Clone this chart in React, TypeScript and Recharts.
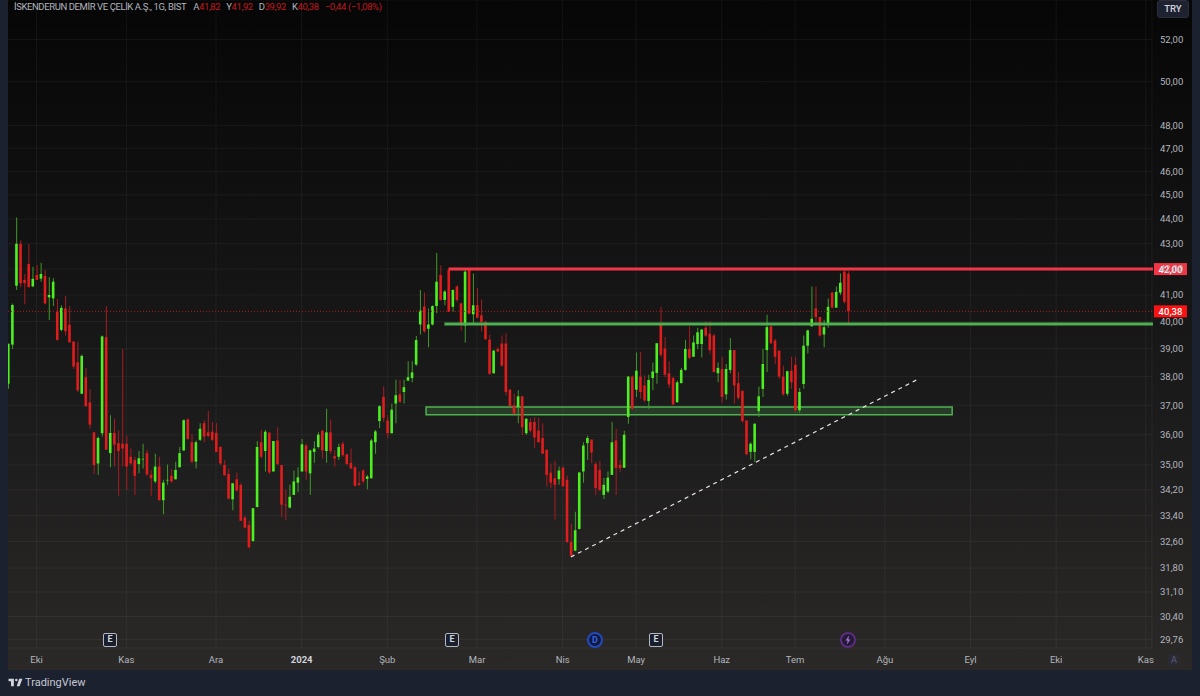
import React from 'react';
import {
  ComposedChart,
  Bar,
  Cell,
  XAxis,
  YAxis,
  CartesianGrid,
  ReferenceLine,
  ReferenceArea,
  ReferenceDot,
} from 'recharts';

const opens = [
  37.75, 39.15, 41.35, 43.0, 41.58, 42.2, 41.33, 41.77, 41.63, 41.73,
  40.91, 40.87, 40.36, 39.69, 40.49, 39.88, 39.26, 38.51, 37.4, 37.98,
  37.1, 36.08, 35.05, 36.05, 39.42, 35.39, 36.06, 35.72, 35.7, 35.7,
  35.27, 35.16, 35.03, 35.18, 35.39, 34.68, 34.47, 34.95, 33.87, 34.5,
  34.65, 34.54, 34.93, 35.48, 36.52, 35.75, 35.11, 35.83, 36.39, 36.08,
  36.1, 36.06, 35.59, 35.0, 34.71, 33.9, 34.54, 34.36, 33.33, 33.1,
  32.61, 33.66, 35.75, 35.46, 36.07, 34.79, 35.81, 35.0, 33.73, 33.64,
  34.04, 34.43, 34.79, 35.64, 34.73, 35.43, 35.59, 36.13, 35.46, 36.08,
  35.29, 35.27, 35.7, 35.35, 35.07, 34.93, 34.41, 34.82, 34.55, 34.57,
  35.75, 36.46, 37.29, 36.48, 36.05, 37.06, 37.38, 37.46, 37.86, 37.95,
  38.43, 39.89, 40.56, 39.73, 39.89, 40.58, 41.77, 40.81, 41.96, 40.55,
  41.32, 40.68, 39.85, 41.96, 40.27, 40.61, 40.23, 39.98, 39.33, 38.12,
  38.99, 39.19, 39.19, 37.54, 37.0, 36.94, 37.31, 36.05, 36.43, 36.43,
  36.14, 35.89, 35.5, 34.75, 34.57, 34.54, 34.91, 34.52, 32.58, 32.32,
  32.98, 34.79, 35.72, 35.84, 35.03, 34.84, 34.04, 34.15, 34.68, 35.81,
  35.0, 34.91, 36.6, 38.0, 37.54, 38.0, 37.69, 37.15, 37.95, 38.13,
  39.91, 39.01, 38.12, 37.95, 37.11, 37.77, 38.24, 38.99, 38.71, 39.17,
  39.17, 39.77, 39.55, 39.48, 38.12, 38.27, 37.38, 38.24, 38.95, 37.77,
  37.5, 36.48, 35.43, 35.43, 36.8, 37.57, 38.95, 39.82, 39.3, 38.93,
  38.0, 37.4, 38.21, 38.42, 36.83, 37.74, 39.11, 39.82, 40.49, 40.17,
  39.52, 39.91, 41.09, 40.52, 41.09, 41.9, 41.82,
];

const closes = [
  39.18, 40.62, 43.0, 41.45, 41.45, 41.3, 41.62, 41.58, 41.81, 40.68,
  41.0, 41.51, 39.32, 40.51, 39.64, 39.23, 38.36, 37.52, 38.74, 36.97,
  36.34, 35.0, 35.89, 39.45, 35.5, 36.06, 35.67, 35.46, 35.54, 34.95,
  35.05, 34.65, 35.22, 35.2, 34.69, 34.57, 34.95, 33.87, 34.43, 34.52,
  34.47, 34.84, 35.39, 36.49, 35.86, 35.11, 35.75, 36.2, 35.94, 35.96,
  35.83, 35.43, 35.05, 34.67, 33.92, 34.41, 34.18, 33.23, 33.02, 32.42,
  33.62, 35.59, 35.27, 36.1, 34.76, 35.79, 35.03, 33.73, 33.71, 33.98,
  34.47, 34.6, 35.68, 34.79, 35.48, 35.54, 36.0, 35.48, 36.08, 35.46,
  35.21, 35.59, 35.32, 35.03, 34.89, 34.33, 34.36, 34.47, 34.63, 35.81,
  36.11, 36.97, 36.57, 36.05, 36.85, 37.35, 37.12, 37.63, 37.98, 38.15,
  39.32, 40.41, 39.64, 39.89, 40.58, 41.51, 40.81, 41.13, 40.36, 41.19,
  40.81, 39.91, 41.9, 40.29, 40.61, 40.14, 39.98, 39.35, 38.1, 38.93,
  38.9, 38.39, 37.46, 36.97, 36.71, 37.31, 36.25, 36.54, 36.14, 35.91,
  35.75, 35.37, 34.68, 34.43, 34.36, 34.82, 34.31, 32.58, 32.17, 32.94,
  34.76, 35.64, 35.89, 35.41, 34.26, 34.2, 34.36, 34.59, 35.75, 34.9,
  34.9, 36.0, 38.0, 36.88, 38.21, 37.46, 37.17, 37.88, 38.18, 39.2,
  38.78, 38.07, 37.72, 37.03, 37.8, 38.24, 38.99, 38.67, 39.23, 39.6,
  39.7, 39.48, 38.95, 38.16, 38.31, 37.29, 38.27, 38.95, 37.69, 37.26,
  36.46, 35.35, 35.7, 36.37, 37.31, 38.45, 39.79, 39.2, 38.71, 38.0,
  37.38, 38.19, 37.8, 36.83, 37.46, 39.11, 39.67, 40.1, 40.17, 39.48,
  39.79, 40.55, 40.52, 41.12, 41.47, 40.74, 40.38,
];

const highs = [
  39.18, 40.68, 44.07, 43.13, 41.81, 42.99, 42.09, 42.16, 42.25, 41.96,
  41.68, 41.64, 40.85, 40.6, 40.96, 40.58, 39.27, 39.26, 38.79, 38.31,
  37.56, 36.08, 35.94, 39.48, 40.58, 36.66, 36.54, 36.14, 38.99, 35.97,
  35.54, 35.27, 35.46, 35.7, 35.5, 34.84, 35.37, 35.27, 34.52, 35.02,
  34.86, 35.11, 35.59, 36.52, 36.56, 36.02, 35.81, 36.39, 36.49, 36.8,
  36.43, 36.39, 35.62, 35.16, 34.89, 34.41, 34.76, 34.41, 33.38, 33.23,
  33.62, 35.79, 36.16, 36.16, 36.08, 35.79, 36.25, 35.0, 34.2, 34.36,
  34.82, 34.93, 35.86, 35.7, 35.5, 35.78, 36.08, 36.16, 36.88, 36.51,
  35.48, 35.7, 35.77, 35.37, 35.54, 34.95, 34.79, 34.86, 34.68, 35.86,
  36.16, 37.0, 37.66, 36.66, 37.06, 37.89, 37.89, 37.89, 38.55, 38.55,
  39.46, 41.19, 41.09, 40.49, 40.61, 42.63, 42.15, 41.19, 41.99, 41.22,
  41.38, 40.7, 41.96, 41.99, 41.83, 41.26, 40.83, 40.04, 39.51, 38.95,
  39.05, 39.48, 39.57, 37.57, 37.4, 37.52, 37.31, 36.56, 36.56, 36.6,
  36.57, 36.39, 35.5, 35.05, 35.14, 34.95, 34.95, 34.65, 33.14, 33.51,
  34.76, 35.75, 35.97, 35.84, 35.1, 35.14, 34.58, 34.79, 36.43, 36.2,
  35.16, 36.13, 38.02, 38.04, 38.86, 38.89, 38.04, 38.07, 38.5, 39.2,
  40.55, 39.43, 38.55, 38.0, 37.86, 38.31, 39.32, 39.82, 39.48, 39.77,
  39.73, 40.01, 40.01, 39.55, 38.5, 38.71, 38.45, 39.39, 38.95, 38.16,
  37.52, 36.48, 35.75, 36.39, 37.65, 38.99, 40.25, 39.85, 39.36, 38.93,
  38.39, 38.21, 38.71, 38.71, 37.6, 39.48, 39.7, 41.32, 41.32, 40.17,
  40.07, 40.87, 41.12, 41.32, 41.83, 41.96, 41.92,
];

const lows = [
  37.57, 38.99, 41.19, 41.3, 40.65, 41.3, 41.3, 41.58, 41.51, 40.65,
  40.06, 40.58, 39.3, 39.64, 39.48, 39.23, 38.27, 37.46, 37.38, 36.94,
  36.2, 34.71, 34.68, 35.94, 35.5, 34.93, 34.95, 34.01, 34.95, 34.2,
  35.0, 34.04, 34.73, 34.89, 34.65, 34.01, 34.41, 33.87, 33.43, 34.36,
  34.43, 34.52, 34.91, 35.46, 35.83, 35.05, 34.89, 35.79, 35.75, 35.92,
  35.79, 35.43, 35.0, 34.65, 33.9, 33.56, 34.15, 33.23, 33.0, 32.38,
  32.59, 33.64, 35.22, 34.79, 34.71, 34.79, 35.0, 33.35, 33.25, 33.62,
  34.04, 34.12, 34.79, 34.52, 34.04, 35.07, 35.54, 35.21, 35.07, 35.37,
  34.95, 35.16, 35.27, 35.0, 34.86, 34.31, 34.33, 34.41, 34.22, 34.57,
  35.37, 36.23, 36.43, 35.89, 36.05, 36.39, 37.08, 37.06, 37.84, 37.8,
  38.39, 39.52, 39.58, 39.05, 39.85, 40.32, 40.78, 40.61, 40.36, 40.36,
  40.74, 39.67, 39.23, 40.29, 39.91, 40.14, 39.64, 39.32, 38.07, 38.1,
  38.87, 38.36, 37.34, 36.97, 36.69, 36.39, 35.99, 36.0, 36.08, 35.57,
  35.75, 35.37, 34.31, 34.25, 33.27, 34.36, 34.31, 32.55, 32.14, 32.3,
  32.96, 34.43, 35.16, 35.06, 34.04, 34.15, 33.91, 34.1, 34.68, 34.04,
  34.78, 34.91, 36.37, 36.85, 37.29, 37.23, 37.11, 36.88, 37.52, 37.75,
  38.71, 37.98, 37.6, 37.0, 37.08, 37.77, 38.21, 38.63, 38.71, 38.99,
  38.68, 39.43, 38.8, 38.16, 37.8, 37.09, 37.2, 38.12, 37.06, 37.2,
  36.4, 35.32, 35.19, 35.1, 36.6, 37.29, 38.16, 39.17, 38.45, 37.92,
  37.33, 37.33, 37.57, 36.77, 36.74, 37.57, 38.83, 39.82, 39.89, 39.45,
  39.05, 39.77, 40.5, 40.52, 41.0, 40.68, 39.92,
];

const priceTicks = [
  52, 50, 48, 47, 46, 45, 44, 43, 42, 41, 40, 39, 38, 37, 36, 35, 34.2, 33.4, 32.6, 31.8, 31.1, 30.4, 29.76,
];
const monthSlots = [7, 29, 51, 72, 93, 115, 136, 154, 175, 193, 215, 236, 257, 279];
const monthLabels = ['Eki', 'Kas', 'Ara', '2024', 'Şub', 'Mar', 'Nis', 'May', 'Haz', 'Tem', 'Ağu', 'Eyl', 'Eki', 'Kas'];

// the time axis runs on past the last candle, empty slots are future days
const SLOT_COUNT = 281;
const LAST_SLOT = SLOT_COUNT - 1;

const LAST_PRICE = 40.38;
const RESISTANCE = 42;
const SUPPORT = 39.91;
const ZONE = [36.68, 36.94];
const TREND = [
  { slot: 138, price: 32.13 },
  { slot: 223, price: 37.9 },
];

const UP = '#4df01f';
const DOWN = '#e01c1c';
const UP_WICK = '#3f9a2a';
const DOWN_WICK = '#a81c20';
const LEVEL_GREEN = '#4fb052';
const LEVEL_RED = '#f23645';
const AXIS_TEXT = '#b2b5be';
const FRAME = '#1c2130';
const FONT = 'Roboto, "Noto Sans", sans-serif';

const table = Array.from({ length: SLOT_COUNT }, (_, i) =>
  i < opens.length
    ? {
        slot: i,
        wick: [lows[i], highs[i]],
        body: [Math.min(opens[i], closes[i]), Math.max(opens[i], closes[i])],
        up: closes[i] >= opens[i],
      }
    : { slot: i, up: false },
);

const fmt = (v: number) => v.toFixed(2).replace('.', ',');

const MonthTick = ({ x, y, payload }: any) => {
  const label = monthLabels[monthSlots.indexOf(payload.value)];
  const isYear = label === '2024';
  return (
    <text
      x={x}
      y={y}
      dy={9}
      textAnchor="middle"
      fontSize={9.5}
      fontFamily={FONT}
      fontWeight={isYear ? 700 : 400}
      fill={isYear ? '#d1d4dc' : AXIS_TEXT}
    >
      {label}
    </text>
  );
};

const PriceTag = ({ cx, cy, fill, value }: any) => (
  <g>
    <rect x={cx + 4} y={cy - 6} width={33} height={12} fill={fill} />
    <text x={cx + 20.5} y={cy + 3.5} textAnchor="middle" fontSize={9.5} fontWeight={500} fontFamily={FONT} fill="#fff">
      {fmt(value)}
    </text>
  </g>
);

// reach the axis edge, category scale stops at the middle of the last slot
const levelShape = (color: string) => (p: any) =>
  <line x1={p.x1} y1={p.y1} x2={p.x2 + 3} y2={p.y2} stroke={color} strokeWidth={3} />;

const boxMarker: React.CSSProperties = {
  position: 'absolute',
  top: 633,
  width: 14,
  height: 14,
  boxSizing: 'border-box',
  border: '1.5px solid #b4b8c4',
  borderRadius: 2,
  background: '#1a1f2e',
  color: '#d1d4dc',
  fontSize: 9,
  fontWeight: 700,
  lineHeight: '11px',
  textAlign: 'center',
};

export default function App() {
  return (
    <div
      style={{
        position: 'absolute',
        left: 0,
        top: 0,
        width: 1200,
        height: 696,
        overflow: 'hidden',
        background: FRAME,
        fontFamily: FONT,
      }}
    >
      <div
        style={{
          position: 'absolute',
          left: 8,
          top: 0,
          width: 1184,
          height: 670,
          background: 'linear-gradient(180deg, #060606 0%, #141414 40%, #1f1e1e 70%, #2b2927 100%)',
        }}
      />

      <div style={{ position: 'absolute', left: 0, top: 0 }}>
        <ComposedChart
          width={1200}
          height={696}
          data={table}
          margin={{ top: 0, right: 0, bottom: 26, left: 6 }}
          barGap={0}
        >
          <CartesianGrid xAxisId="main" yAxisId="price" stroke="rgba(255,255,255,0.05)" />
          <XAxis
            xAxisId="main"
            dataKey="slot"
            type="category"
            ticks={monthSlots}
            interval={0}
            tick={<MonthTick />}
            height={22}
            axisLine={false}
            tickLine={false}
            tickMargin={0}
          />
          <XAxis xAxisId="wicks" dataKey="slot" type="category" hide />
          <YAxis
            yAxisId="price"
            orientation="right"
            width={48}
            scale="log"
            domain={[29.52, 53.95]}
            allowDataOverflow
            ticks={priceTicks}
            interval={0}
            tickFormatter={fmt}
            axisLine={false}
            tickLine={false}
            tickMargin={2}
            tick={{ fill: AXIS_TEXT, fontSize: 9.5, fontFamily: FONT }}
          />

          <Bar xAxisId="wicks" yAxisId="price" dataKey="wick" barSize={1} isAnimationActive={false}>
            {table.map((row) => (
              <Cell key={row.slot} fill={row.up ? UP_WICK : DOWN_WICK} />
            ))}
          </Bar>
          <Bar xAxisId="main" yAxisId="price" dataKey="body" barSize={2.6} isAnimationActive={false}>
            {table.map((row) => (
              <Cell key={row.slot} fill={row.up ? UP : DOWN} />
            ))}
          </Bar>

          <ReferenceLine
            xAxisId="main"
            yAxisId="price"
            y={LAST_PRICE}
            stroke="#b01c1f"
            strokeDasharray="1 2"
          />
          <ReferenceArea
            xAxisId="main"
            yAxisId="price"
            x1={103}
            x2={231}
            y1={ZONE[0]}
            y2={ZONE[1]}
            stroke={LEVEL_GREEN}
            strokeWidth={1.5}
            fill={LEVEL_GREEN}
            fillOpacity={0.22}
          />
          <ReferenceLine
            xAxisId="main"
            yAxisId="price"
            segment={[
              { x: 107, y: SUPPORT },
              { x: LAST_SLOT, y: SUPPORT },
            ]}
            shape={levelShape(LEVEL_GREEN)}
          />
          <ReferenceLine
            xAxisId="main"
            yAxisId="price"
            segment={[
              { x: 108, y: RESISTANCE },
              { x: LAST_SLOT, y: RESISTANCE },
            ]}
            shape={levelShape(LEVEL_RED)}
          />
          <ReferenceLine
            xAxisId="main"
            yAxisId="price"
            segment={[
              { x: TREND[0].slot, y: TREND[0].price },
              { x: TREND[1].slot, y: TREND[1].price },
            ]}
            stroke="#e6e6e6"
            strokeWidth={1.2}
            strokeDasharray="4 4"
          />
          <ReferenceDot
            xAxisId="main"
            yAxisId="price"
            x={LAST_SLOT}
            y={RESISTANCE}
            shape={(p: any) => <PriceTag {...p} fill={LEVEL_RED} value={RESISTANCE} />}
          />
          <ReferenceDot
            xAxisId="main"
            yAxisId="price"
            x={LAST_SLOT}
            y={LAST_PRICE}
            shape={(p: any) => <PriceTag {...p} fill="#f91414" value={LAST_PRICE} />}
          />
        </ComposedChart>
      </div>

      {/* frame strip covers the half candle on the left edge */}
      <div style={{ position: 'absolute', left: 0, top: 0, width: 8, height: 696, background: FRAME }} />

      <div
        style={{
          position: 'absolute',
          left: 14,
          top: 1,
          fontSize: 9.5,
          letterSpacing: -0.4,
          lineHeight: '12px',
          whiteSpace: 'nowrap',
          color: AXIS_TEXT,
        }}
      >
        İSKENDERUN DEMİR VE ÇELİK A.Ş., 1G, BIST
        <span style={{ marginLeft: 7 }}>A</span>
        <span style={{ color: '#c2191e' }}>41,82</span>
        <span style={{ marginLeft: 6 }}>Y</span>
        <span style={{ color: '#c2191e' }}>41,92</span>
        <span style={{ marginLeft: 6 }}>D</span>
        <span style={{ color: '#c2191e' }}>39,92</span>
        <span style={{ marginLeft: 6 }}>K</span>
        <span style={{ color: '#c2191e' }}>40,38</span>
        <span style={{ color: '#c2191e', marginLeft: 6 }}>−0,44 (−1,08%)</span>
      </div>

      <div
        style={{
          position: 'absolute',
          left: 1157,
          top: 0,
          width: 32,
          height: 18,
          borderRadius: 3,
          border: '1px solid #2a2e39',
          boxSizing: 'border-box',
          background: '#1e2230',
          color: '#d1d4dc',
          fontSize: 9.5,
          fontWeight: 500,
          lineHeight: '16px',
          textAlign: 'center',
        }}
      >
        TRY
      </div>

      <div style={{ ...boxMarker, left: 103 }}>E</div>
      <div style={{ ...boxMarker, left: 445 }}>E</div>
      <div style={{ ...boxMarker, left: 649 }}>E</div>
      <div
        style={{
          ...boxMarker,
          left: 587,
          width: 16,
          height: 16,
          top: 632,
          borderRadius: '50%',
          border: '2px solid #2049c4',
          background: '#12193a',
          color: '#3566e6',
          lineHeight: '12px',
        }}
      >
        D
      </div>
      <div
        style={{
          ...boxMarker,
          left: 840,
          width: 16,
          height: 16,
          top: 632,
          borderRadius: '50%',
          border: '2px solid #5a2c82',
          background: '#241a33',
        }}
      >
        <svg width={12} height={12} viewBox="0 0 12 12" style={{ display: 'block' }}>
          <path d="M7 1.5 3.5 6.5h2L5 10.5 8.5 5.5h-2z" fill="#a06ad0" />
        </svg>
      </div>

      <div
        style={{
          position: 'absolute',
          left: 1168,
          top: 654,
          width: 12,
          fontSize: 9,
          lineHeight: '12px',
          textAlign: 'center',
          color: '#5d6080',
          background: '#2a2a33',
        }}
      >
        A
      </div>

      <svg width={15} height={9} viewBox="0 0 36 22" style={{ position: 'absolute', left: 8, top: 678 }}>
        <path d="M14 2H1v6h6v12h7zM28 20h-7l6-18h8zM20 8a3 3 0 1 0 0-6 3 3 0 0 0 0 6z" fill="#d1d4dc" />
      </svg>
      <div
        style={{
          position: 'absolute',
          left: 25,
          top: 676,
          fontSize: 11,
          lineHeight: '14px',
          color: '#c5c8d0',
        }}
      >
        TradingView
      </div>
    </div>
  );
}
